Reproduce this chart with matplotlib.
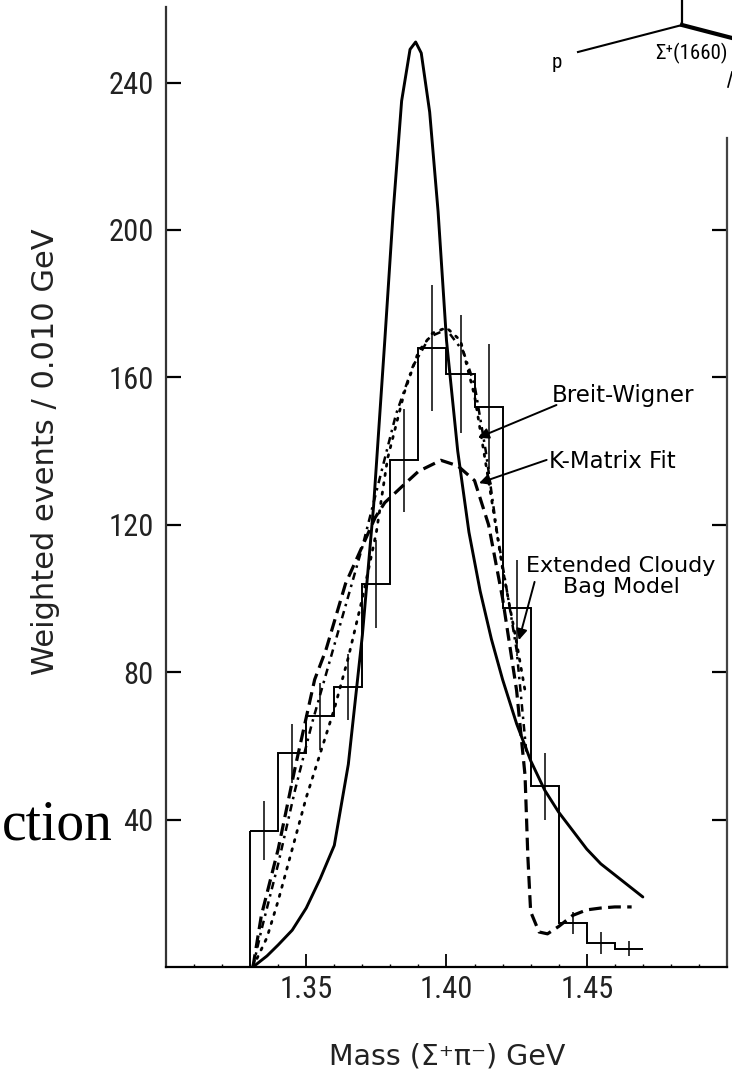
import matplotlib
matplotlib.use("Agg")
import matplotlib.pyplot as plt
from matplotlib import font_manager
from matplotlib.lines import Line2D

# histogram (bins of 0.010 GeV)
bin_edges = [1.33, 1.34, 1.35, 1.36, 1.37, 1.38, 1.39, 1.40, 1.41, 1.42, 1.43, 1.44, 1.45, 1.46, 1.47]
counts = [37, 58, 68, 76, 104, 137.5, 168, 161, 152, 97.5, 49, 12, 6.5, 5]
errors = [8, 8, 9, 9, 12, 14, 17, 16, 17, 13, 9, 3, 3, 2]

# tall solid curve
solid_x = [1.331, 1.336, 1.340, 1.345, 1.350, 1.355, 1.360, 1.365, 1.370, 1.374, 1.378, 1.381,
           1.384, 1.387, 1.389, 1.391, 1.394, 1.397, 1.400, 1.404, 1.408, 1.412, 1.416, 1.420,
           1.425, 1.430, 1.435, 1.440, 1.445, 1.450, 1.455, 1.460, 1.465, 1.470]
solid_y = [0, 3, 6, 10, 16, 24, 33, 55, 90, 125, 170, 205,
           235, 249, 251, 248, 232, 205, 170, 140, 118, 102, 89, 78,
           66, 56, 48, 42, 37, 32, 28, 25, 22, 19]

# dotted curve
dot_x = [1.331, 1.336, 1.340, 1.345, 1.350, 1.355, 1.360, 1.365, 1.370, 1.375, 1.379, 1.385,
         1.390, 1.395, 1.400, 1.405, 1.410, 1.415, 1.420, 1.425, 1.428]
dot_y = [0, 8, 18, 32, 46, 58, 70, 84, 100, 118, 138, 156,
         167, 172, 173.5, 170, 155, 132, 108, 88, 75]

# dash-dot curve
dashdot_x = [1.331, 1.334, 1.340, 1.346, 1.352, 1.358, 1.364, 1.370, 1.376, 1.382, 1.388, 1.394,
             1.400, 1.406, 1.410, 1.414, 1.418, 1.422, 1.425, 1.4285]
dashdot_y = [0, 10, 28, 48, 66, 82, 98, 114, 132, 150, 163, 171,
             173, 167, 158, 140, 118, 100, 86, 58]

# dashed curve
dash_x = [1.331, 1.334, 1.340, 1.346, 1.353, 1.357, 1.364, 1.3746, 1.378, 1.385, 1.390, 1.398,
          1.404, 1.410, 1.415, 1.420, 1.425, 1.428, 1.429, 1.430, 1.433, 1.436, 1.440, 1.445,
          1.450, 1.455, 1.460, 1.466]
dash_y = [0, 14, 32, 54, 78, 86, 104, 122, 126, 131, 134.5, 137.5,
          136, 132, 120, 100, 75, 52, 30, 15, 9.5, 9, 11, 14,
          15.5, 16, 16.3, 16.3]

y_ticks = [40, 80, 120, 160, 200, 240]
x_ticks = [1.35, 1.40, 1.45]
x_ticklabels = ["1.35", "1.40", "1.45"]

W, H = 732, 1071

# narrow face for the numbers if there is one, wide-spaced DejaVu for the words
names = {f.name for f in font_manager.fontManager.ttflist}
narrow = "DejaVu Sans"
tick_fs, small_fs = 19, 12
for cand, sizes in [("Liberation Sans Narrow", (23, 15)), ("Roboto Condensed", (22, 15))]:
    if cand in names:
        narrow = cand
        tick_fs, small_fs = sizes
        break
plt.rcParams["font.family"] = ["DejaVu Sans"]

fig = plt.figure(figsize=(W / 100, H / 100), dpi=100)
ax = fig.add_axes([166 / W, 1 - 967 / H, (727 - 166) / W, (967 - 7) / H])

# histogram with error bars
ax.stairs(counts, bin_edges, baseline=None, color="k", lw=1.4)
ax.vlines(bin_edges[0], 0, counts[0], color="k", lw=1.4)
centers = [(a + b) / 2 for a, b in zip(bin_edges[:-1], bin_edges[1:])]
ax.errorbar(centers, counts, yerr=errors, fmt="none", ecolor="k", elinewidth=1.1, capsize=0)

# model curves
ax.plot(solid_x, solid_y, color="k", lw=2.1, solid_capstyle="round")
ax.plot(dot_x, dot_y, color="k", lw=2.0, linestyle=(0, (0.8, 2.6)), dash_capstyle="round")
ax.plot(dashdot_x, dashdot_y, color="k", lw=1.8, linestyle=(0, (3, 2, 1, 2)))
ax.plot(dash_x, dash_y, color="k", lw=2.3, linestyle=(0, (4, 2)))

ax.set_xlim(1.30, 1.50)
ax.set_ylim(0, 260.5)

ax.set_xticks(x_ticks)
ax.set_xticklabels(x_ticklabels, family=narrow)
ax.set_xticks([1.31, 1.32, 1.33, 1.34, 1.36, 1.37, 1.38, 1.39, 1.41, 1.42, 1.43, 1.44,
               1.46, 1.47, 1.48, 1.49], minor=True)
ax.set_yticks(y_ticks)
ax.set_yticklabels([str(v) for v in y_ticks], family=narrow)

ax.tick_params(axis="both", which="major", labelsize=tick_fs, labelcolor="#222222")
ax.tick_params(axis="x", which="major", direction="in", length=9.5, width=1.3, pad=6)
ax.tick_params(axis="x", which="minor", direction="in", length=2.5, width=1.0)
ax.tick_params(axis="y", which="major", direction="in", length=11, width=1.6, pad=9,
               left=True, right=True, labelright=False)
for t in ax.yaxis.get_major_ticks():
    if t.get_loc() > 225:
        t.tick2line.set_visible(False)

ax.spines["top"].set_visible(False)
ax.spines["right"].set_bounds(0, 225)
ax.spines["left"].set_color("#333333")
ax.spines["right"].set_color("#444444")
for s in ["left", "right", "bottom"]:
    ax.spines[s].set_linewidth(1.6)


def px(x, y):
    return x / W, 1 - y / H


# axis titles placed where the scan has them
fig.text(*px(447, 1064), "Mass (Σ⁺π⁻) GeV", fontsize=20.5, color="#222222",
         ha="center", va="baseline")
fig.text(*px(46, 452), "Weighted events / 0.010 GeV", fontsize=22, color="#222222",
         ha="center", va="center", rotation=90)

# curve annotations
ann_fs = 16.5
arrow = dict(arrowstyle="-|>", color="k", lw=1.4, mutation_scale=16, shrinkA=0, shrinkB=0)
ax.annotate("", xy=(1.4112, 143.6), xytext=(1.4392, 152.5), arrowprops=arrow)
ax.text(1.4375, 155.2, "Breit-Wigner", fontsize=ann_fs, ha="left", va="center")
ax.annotate("", xy=(1.4116, 131.3), xytext=(1.4357, 137.6), arrowprops=arrow)
ax.text(1.4367, 137.3, "K-Matrix Fit", fontsize=ann_fs, ha="left", va="center")
ax.annotate("", xy=(1.4258, 88.7), xytext=(1.4314, 104.5), arrowprops=arrow)
ax.text(1.4622, 106, "Extended Cloudy\nBag Model", fontsize=ann_fs - 0.5,
        ha="center", va="center", linespacing=1.1)

# stray pieces of the scanned page
for (x0, y0), (x1, y1), lw in [((578, 52), (682, 25), 1.5), ((682, 0), (682, 25), 1.6),
                               ((682, 25), (732, 38), 3.0), ((728, 87), (732, 72), 1.2)]:
    a, b = px(x0, y0), px(x1, y1)
    fig.add_artist(Line2D([a[0], b[0]], [a[1], b[1]], transform=fig.transFigure, color="k", lw=lw))
fig.text(*px(557, 62), "p", fontsize=small_fs, family=narrow, ha="center", va="center")
fig.text(*px(691, 53), "Σ⁺(1660)", fontsize=small_fs, family=[narrow, "DejaVu Sans"],
         ha="center", va="center")
fig.text(*px(113, 840), "ction", fontsize=40, family="Liberation Serif", ha="right", va="baseline")

fig.savefig("out.png", dpi=100)
